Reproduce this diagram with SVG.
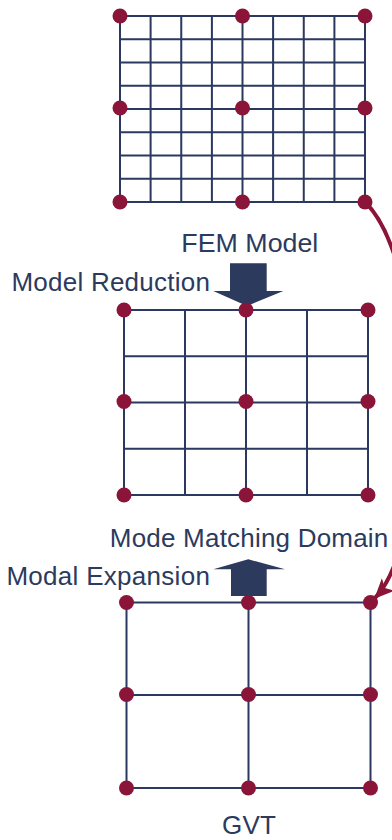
<svg xmlns="http://www.w3.org/2000/svg" width="392" height="840" viewBox="0 0 392 840">
<style>
.grid{stroke:#2B3860;stroke-width:2;fill:none}
.dot{fill:#8A1538}
.lbl{font-family:"Liberation Sans",Arial,sans-serif;font-size:26px;fill:#2C3A5E}
.blk{fill:#2C3A5E}
.curve{stroke:#8A1538;stroke-width:4;fill:none}
</style>
<defs>
<marker id="ah" markerUnits="userSpaceOnUse" markerWidth="24" markerHeight="24" refX="19" refY="10" orient="auto">
<path d="M0,1 L20,10 L0,19 L5,10 z" fill="#8A1538"/>
</marker>
</defs>
<rect width="392" height="840" fill="#ffffff"/>
<g id="connectors">
<path class="curve" d="M365,202 C430,265 432,540 375,598" marker-end="url(#ah)"/>
<polygon id="arrow-reduction" class="blk" points="230,263.3 266.7,263.3 266.7,291 283.3,291 247,306 213.3,291 230,291"/>
<polygon id="arrow-expansion" class="blk" points="248.3,559.3 285,569.3 266.7,569.3 266.7,596 231,596 231,569.3 213.3,569.3"/>
</g>
<g id="fem-model">
<path class="grid" d="M120,16 H365 M120,39.25 H365 M120,62.5 H365 M120,85.75 H365 M120,109 H365 M120,132.25 H365 M120,155.5 H365 M120,178.75 H365 M120,202 H365 M120,16 V202 M150.6,16 V202 M181.25,16 V202 M211.9,16 V202 M242.5,16 V202 M273.1,16 V202 M303.75,16 V202 M334.4,16 V202 M365,16 V202"/>
<circle class="dot" cx="120" cy="16" r="7.5"/><circle class="dot" cx="242.5" cy="16" r="7.5"/><circle class="dot" cx="365" cy="16" r="7.5"/>
<circle class="dot" cx="120" cy="108" r="7.5"/><circle class="dot" cx="242.5" cy="108" r="7.5"/><circle class="dot" cx="365" cy="108" r="7.5"/>
<circle class="dot" cx="120" cy="202" r="7.5"/><circle class="dot" cx="242.5" cy="202" r="7.5"/><circle class="dot" cx="365" cy="202" r="7.5"/>
<text class="lbl" x="181.3" y="252.3" textLength="137" lengthAdjust="spacingAndGlyphs">FEM Model</text>
</g>
<g id="mode-matching-domain">
<path class="grid" d="M124,310 H368 M124,356.25 H368 M124,402.5 H368 M124,448.75 H368 M124,495 H368 M124,310 V495 M185,310 V495 M246,310 V495 M307,310 V495 M368,310 V495"/>
<circle class="dot" cx="124" cy="310" r="7.5"/><circle class="dot" cx="246" cy="310" r="7.5"/><circle class="dot" cx="368" cy="310" r="7.5"/>
<circle class="dot" cx="124" cy="401.5" r="7.5"/><circle class="dot" cx="246" cy="401.5" r="7.5"/><circle class="dot" cx="368" cy="401.5" r="7.5"/>
<circle class="dot" cx="124" cy="495" r="7.5"/><circle class="dot" cx="246" cy="495" r="7.5"/><circle class="dot" cx="368" cy="495" r="7.5"/>
<text class="lbl" x="109.8" y="547.3" textLength="278.5">Mode Matching Domain</text>
</g>
<g id="gvt">
<path class="grid" d="M126.5,602.5 H370.5 M126.5,695 H370.5 M126.5,788 H370.5 M126.5,602.5 V788 M248.5,602.5 V788 M370.5,602.5 V788"/>
<circle class="dot" cx="126.5" cy="602.5" r="7.5"/><circle class="dot" cx="248.5" cy="602.5" r="7.5"/><circle class="dot" cx="370.5" cy="602.5" r="7.5"/>
<circle class="dot" cx="126.5" cy="694.5" r="7.5"/><circle class="dot" cx="248.5" cy="694.5" r="7.5"/><circle class="dot" cx="370.5" cy="694.5" r="7.5"/>
<circle class="dot" cx="126.5" cy="788" r="7.5"/><circle class="dot" cx="248.5" cy="788" r="7.5"/><circle class="dot" cx="370.5" cy="788" r="7.5"/>
<text class="lbl" x="222" y="834" textLength="54">GVT</text>
</g>
<g id="label-model-reduction">
<text class="lbl" x="11.4" y="290.7" textLength="198.5">Model Reduction</text>
</g>
<g id="label-modal-expansion">
<text class="lbl" x="6.4" y="585" textLength="203.5">Modal Expansion</text>
</g>
</svg>
